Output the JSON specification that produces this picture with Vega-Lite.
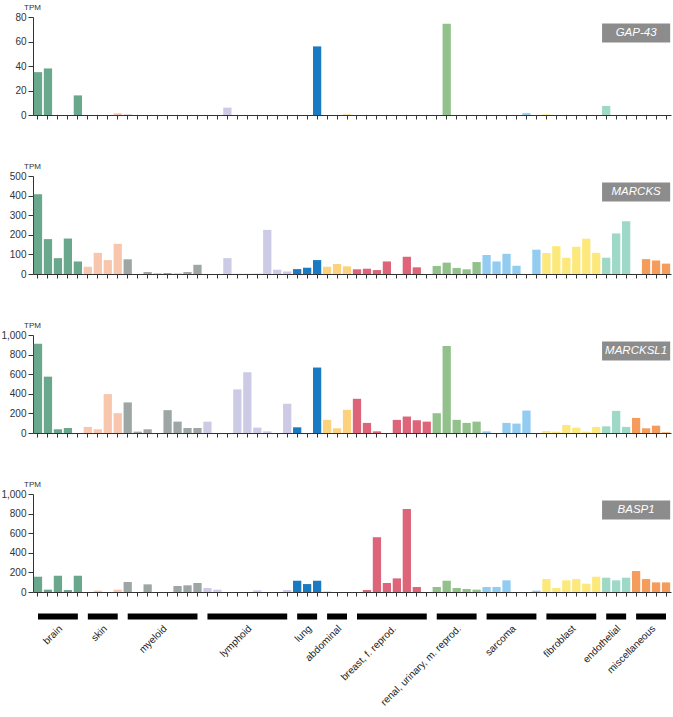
{
  "$schema": "https://vega.github.io/schema/vega-lite/v6.json",
  "padding": {"left": 0, "top": 3, "right": 3, "bottom": 0},
  "background": "white",
  "data": {"values": [
    {"line":"L01","group":"brain","GAP43":35,"MARCKS":407,"MARCKSL1":911,"BASP1":156},
    {"line":"L02","group":"brain","GAP43":38,"MARCKS":178,"MARCKSL1":575,"BASP1":24},
    {"line":"L03","group":"brain","GAP43":0,"MARCKS":81,"MARCKSL1":38,"BASP1":166},
    {"line":"L04","group":"brain","GAP43":0,"MARCKS":181,"MARCKSL1":51,"BASP1":20},
    {"line":"L05","group":"brain","GAP43":16,"MARCKS":64,"MARCKSL1":0,"BASP1":166},
    {"line":"L06","group":"skin","GAP43":0,"MARCKS":37,"MARCKSL1":62,"BASP1":0},
    {"line":"L07","group":"skin","GAP43":0,"MARCKS":108,"MARCKSL1":38,"BASP1":14},
    {"line":"L08","group":"skin","GAP43":0,"MARCKS":71,"MARCKSL1":397,"BASP1":0},
    {"line":"L09","group":"skin","GAP43":1.4,"MARCKS":154,"MARCKSL1":202,"BASP1":24},
    {"line":"L10","group":"myeloid","GAP43":0.3,"MARCKS":75,"MARCKSL1":312,"BASP1":102},
    {"line":"L11","group":"myeloid","GAP43":0,"MARCKS":0,"MARCKSL1":14,"BASP1":0},
    {"line":"L12","group":"myeloid","GAP43":0,"MARCKS":10,"MARCKSL1":38,"BASP1":78},
    {"line":"L13","group":"myeloid","GAP43":0,"MARCKS":2,"MARCKSL1":0,"BASP1":0},
    {"line":"L14","group":"myeloid","GAP43":0,"MARCKS":5,"MARCKSL1":233,"BASP1":0},
    {"line":"L15","group":"myeloid","GAP43":0,"MARCKS":2,"MARCKSL1":116,"BASP1":61},
    {"line":"L16","group":"myeloid","GAP43":0,"MARCKS":10,"MARCKSL1":51,"BASP1":68},
    {"line":"L17","group":"myeloid","GAP43":0,"MARCKS":47,"MARCKSL1":51,"BASP1":92},
    {"line":"L18","group":"lymphoid","GAP43":0,"MARCKS":0,"MARCKSL1":116,"BASP1":41},
    {"line":"L19","group":"lymphoid","GAP43":0,"MARCKS":0,"MARCKSL1":0,"BASP1":24},
    {"line":"L20","group":"lymphoid","GAP43":6,"MARCKS":81,"MARCKSL1":0,"BASP1":0},
    {"line":"L21","group":"lymphoid","GAP43":0,"MARCKS":1,"MARCKSL1":445,"BASP1":0},
    {"line":"L22","group":"lymphoid","GAP43":0,"MARCKS":1,"MARCKSL1":620,"BASP1":0},
    {"line":"L23","group":"lymphoid","GAP43":0,"MARCKS":2,"MARCKSL1":55,"BASP1":17},
    {"line":"L24","group":"lymphoid","GAP43":0,"MARCKS":225,"MARCKSL1":17,"BASP1":0},
    {"line":"L25","group":"lymphoid","GAP43":0,"MARCKS":22,"MARCKSL1":0,"BASP1":0},
    {"line":"L26","group":"lymphoid","GAP43":0,"MARCKS":13,"MARCKSL1":298,"BASP1":20},
    {"line":"L27","group":"lung","GAP43":0,"MARCKS":25,"MARCKSL1":58,"BASP1":115},
    {"line":"L28","group":"lung","GAP43":0,"MARCKS":32,"MARCKSL1":0,"BASP1":81},
    {"line":"L29","group":"lung","GAP43":56,"MARCKS":71,"MARCKSL1":668,"BASP1":115},
    {"line":"L30","group":"abdominal","GAP43":0,"MARCKS":37,"MARCKSL1":134,"BASP1":7},
    {"line":"L31","group":"abdominal","GAP43":0,"MARCKS":51,"MARCKSL1":48,"BASP1":0},
    {"line":"L32","group":"abdominal","GAP43":0.5,"MARCKS":39,"MARCKSL1":236,"BASP1":0},
    {"line":"L33","group":"breast, f. reprod.","GAP43":0,"MARCKS":24,"MARCKSL1":349,"BASP1":0},
    {"line":"L34","group":"breast, f. reprod.","GAP43":0,"MARCKS":27,"MARCKSL1":103,"BASP1":20},
    {"line":"L35","group":"breast, f. reprod.","GAP43":0,"MARCKS":20,"MARCKSL1":17,"BASP1":559},
    {"line":"L36","group":"breast, f. reprod.","GAP43":0,"MARCKS":64,"MARCKSL1":0,"BASP1":92},
    {"line":"L37","group":"breast, f. reprod.","GAP43":0,"MARCKS":0,"MARCKSL1":134,"BASP1":139},
    {"line":"L38","group":"breast, f. reprod.","GAP43":0,"MARCKS":88,"MARCKSL1":168,"BASP1":847},
    {"line":"L39","group":"breast, f. reprod.","GAP43":0,"MARCKS":34,"MARCKSL1":130,"BASP1":51},
    {"line":"L40","group":"breast, f. reprod.","GAP43":0,"MARCKS":0,"MARCKSL1":116,"BASP1":0},
    {"line":"L41","group":"renal, urinary, m. reprod.","GAP43":0,"MARCKS":41,"MARCKSL1":202,"BASP1":51},
    {"line":"L42","group":"renal, urinary, m. reprod.","GAP43":74.5,"MARCKS":58,"MARCKSL1":887,"BASP1":115},
    {"line":"L43","group":"renal, urinary, m. reprod.","GAP43":0,"MARCKS":31,"MARCKSL1":134,"BASP1":41},
    {"line":"L44","group":"renal, urinary, m. reprod.","GAP43":0,"MARCKS":24,"MARCKSL1":103,"BASP1":31},
    {"line":"L45","group":"renal, urinary, m. reprod.","GAP43":0,"MARCKS":61,"MARCKSL1":116,"BASP1":24},
    {"line":"L46","group":"sarcoma","GAP43":0,"MARCKS":97,"MARCKSL1":17,"BASP1":51},
    {"line":"L47","group":"sarcoma","GAP43":0,"MARCKS":64,"MARCKSL1":0,"BASP1":51},
    {"line":"L48","group":"sarcoma","GAP43":0,"MARCKS":103,"MARCKSL1":103,"BASP1":119},
    {"line":"L49","group":"sarcoma","GAP43":0,"MARCKS":42,"MARCKSL1":96,"BASP1":0},
    {"line":"L50","group":"sarcoma","GAP43":1.5,"MARCKS":0,"MARCKSL1":229,"BASP1":0},
    {"line":"L51","group":"sarcoma","GAP43":0,"MARCKS":124,"MARCKSL1":0,"BASP1":14},
    {"line":"L52","group":"fibroblast","GAP43":0.5,"MARCKS":107,"MARCKSL1":21,"BASP1":132},
    {"line":"L53","group":"fibroblast","GAP43":0,"MARCKS":142,"MARCKSL1":14,"BASP1":41},
    {"line":"L54","group":"fibroblast","GAP43":0,"MARCKS":83,"MARCKSL1":82,"BASP1":119},
    {"line":"L55","group":"fibroblast","GAP43":0,"MARCKS":139,"MARCKSL1":55,"BASP1":132},
    {"line":"L56","group":"fibroblast","GAP43":0,"MARCKS":180,"MARCKSL1":14,"BASP1":85},
    {"line":"L57","group":"fibroblast","GAP43":0,"MARCKS":108,"MARCKSL1":62,"BASP1":156},
    {"line":"L58","group":"endothelial","GAP43":7.4,"MARCKS":83,"MARCKSL1":68,"BASP1":146},
    {"line":"L59","group":"endothelial","GAP43":0,"MARCKS":207,"MARCKSL1":226,"BASP1":119},
    {"line":"L60","group":"endothelial","GAP43":0,"MARCKS":269,"MARCKSL1":62,"BASP1":146},
    {"line":"L61","group":"miscellaneous","GAP43":0,"MARCKS":0,"MARCKSL1":154,"BASP1":214},
    {"line":"L62","group":"miscellaneous","GAP43":0,"MARCKS":76,"MARCKSL1":48,"BASP1":132},
    {"line":"L63","group":"miscellaneous","GAP43":0,"MARCKS":69,"MARCKSL1":75,"BASP1":98},
    {"line":"L64","group":"miscellaneous","GAP43":0,"MARCKS":53,"MARCKSL1":7,"BASP1":98}
  ]},
  "bounds": "flush",
  "spacing": 61,
  "vconcat": [
    {
      "width": 638, "height": 98,
      "layer": [
        {"mark": {"type": "bar"},
         "encoding": {
           "x": {"field": "line", "type": "nominal", "title": null, "scale": {"paddingInner": 0.17, "paddingOuter": 0.085}, "axis": {"labels": false, "title": null, "tickSize": 4, "bandPosition": 0.5}},
           "y": {"field": "GAP43", "type": "quantitative", "scale": {"domain": [0, 80]}, "axis": {"title": "TPM", "tickCount": 5, "titleAngle": 0, "titleX": -1, "titleY": -8, "titleAlign": "center", "titleBaseline": "alphabetic"}},
           "color": {"field": "group", "type": "nominal", "legend": null, "scale": {"domain": ["brain","skin","myeloid","lymphoid","lung","abdominal","breast, f. reprod.","renal, urinary, m. reprod.","sarcoma","fibroblast","endothelial","miscellaneous"], "range": ["#6aa88e","#f8c6ad","#9ea5a5","#cdcae6","#1a7bc2","#fdd27e","#dd6479","#92c18b","#92ccf0","#fde87c","#9ed8c6","#f59c5c"]}}
         }},
        {"data": {"values": [{"gene": "GAP-43"}]},
         "mark": {"type": "rect", "color": "#8c8c8c"},
         "encoding": {
           "x": {"datum": "L58", "bandPosition": 0, "title": null},
           "x2": {"datum": "L64", "bandPosition": 1},
           "y": {"datum": 74.7, "title": "TPM"},
           "y2": {"datum": 59.2}
         }},
        {"data": {"values": [{"gene": "GAP-43"}]},
         "mark": {"type": "text", "color": "#ffffff", "fontStyle": "italic", "fontSize": 11.5, "align": "center", "baseline": "middle"},
         "encoding": {
           "x": {"datum": "L61", "bandPosition": 0.5, "title": null},
           "y": {"datum": 67, "title": "TPM"},
           "text": {"field": "gene"}
         }}
      ]
    },
    {
      "width": 638, "height": 98,
      "layer": [
        {"mark": {"type": "bar"},
         "encoding": {
           "x": {"field": "line", "type": "nominal", "title": null, "scale": {"paddingInner": 0.17, "paddingOuter": 0.085}, "axis": {"labels": false, "title": null, "tickSize": 4, "bandPosition": 0.5}},
           "y": {"field": "MARCKS", "type": "quantitative", "scale": {"domain": [0, 500]}, "axis": {"title": "TPM", "tickCount": 5, "titleAngle": 0, "titleX": -1, "titleY": -8, "titleAlign": "center", "titleBaseline": "alphabetic"}},
           "color": {"field": "group", "type": "nominal", "legend": null}
         }},
        {"data": {"values": [{"gene": "MARCKS"}]},
         "mark": {"type": "rect", "color": "#8c8c8c"},
         "encoding": {
           "x": {"datum": "L58", "bandPosition": 0, "title": null},
           "x2": {"datum": "L64", "bandPosition": 1},
           "y": {"datum": 467, "title": "TPM"},
           "y2": {"datum": 370}
         }},
        {"data": {"values": [{"gene": "MARCKS"}]},
         "mark": {"type": "text", "color": "#ffffff", "fontStyle": "italic", "fontSize": 11.5, "align": "center", "baseline": "middle"},
         "encoding": {
           "x": {"datum": "L61", "bandPosition": 0.5, "title": null},
           "y": {"datum": 418, "title": "TPM"},
           "text": {"field": "gene"}
         }}
      ]
    },
    {
      "width": 638, "height": 98,
      "layer": [
        {"mark": {"type": "bar"},
         "encoding": {
           "x": {"field": "line", "type": "nominal", "title": null, "scale": {"paddingInner": 0.17, "paddingOuter": 0.085}, "axis": {"labels": false, "title": null, "tickSize": 4, "bandPosition": 0.5}},
           "y": {"field": "MARCKSL1", "type": "quantitative", "scale": {"domain": [0, 1000]}, "axis": {"title": "TPM", "tickCount": 5, "titleAngle": 0, "titleX": -1, "titleY": -8, "titleAlign": "center", "titleBaseline": "alphabetic"}},
           "color": {"field": "group", "type": "nominal", "legend": null}
         }},
        {"data": {"values": [{"gene": "MARCKSL1"}]},
         "mark": {"type": "rect", "color": "#8c8c8c"},
         "encoding": {
           "x": {"datum": "L58", "bandPosition": 0, "title": null},
           "x2": {"datum": "L64", "bandPosition": 1},
           "y": {"datum": 934, "title": "TPM"},
           "y2": {"datum": 740}
         }},
        {"data": {"values": [{"gene": "MARCKSL1"}]},
         "mark": {"type": "text", "color": "#ffffff", "fontStyle": "italic", "fontSize": 11.5, "align": "center", "baseline": "middle"},
         "encoding": {
           "x": {"datum": "L61", "bandPosition": 0.5, "title": null},
           "y": {"datum": 837, "title": "TPM"},
           "text": {"field": "gene"}
         }}
      ]
    },
    {
      "width": 638, "height": 98,
      "resolve": {"scale": {"x": "independent"}, "axis": {"x": "independent"}},
      "layer": [
        {
          "layer": [
            {"mark": {"type": "bar"},
             "encoding": {
               "x": {"field": "line", "type": "nominal", "title": null, "scale": {"paddingInner": 0.17, "paddingOuter": 0.085}, "axis": {"labels": false, "title": null, "tickSize": 4, "bandPosition": 0.5}},
               "y": {"field": "BASP1", "type": "quantitative", "scale": {"domain": [0, 1000]}, "axis": {"title": "TPM", "tickCount": 5, "titleAngle": 0, "titleX": -1, "titleY": -8, "titleAlign": "center", "titleBaseline": "alphabetic"}},
               "color": {"field": "group", "type": "nominal", "legend": null}
             }},
            {"data": {"values": [{"gene": "BASP1"}]},
             "mark": {"type": "rect", "color": "#8c8c8c"},
             "encoding": {
               "x": {"datum": "L58", "bandPosition": 0, "title": null},
               "x2": {"datum": "L64", "bandPosition": 1},
               "y": {"datum": 934, "title": "TPM", "scale": {"domain": [0, 1000]}},
               "y2": {"datum": 740}
             }},
            {"data": {"values": [{"gene": "BASP1"}]},
             "mark": {"type": "text", "color": "#ffffff", "fontStyle": "italic", "fontSize": 11.5, "align": "center", "baseline": "middle"},
             "encoding": {
               "x": {"datum": "L61", "bandPosition": 0.5, "title": null},
               "y": {"datum": 837, "title": "TPM", "scale": {"domain": [0, 1000]}},
               "text": {"field": "gene"}
             }}
          ]
        },
        {
          "transform": [
            {"window": [{"op": "row_number", "as": "r"}]},
            {"aggregate": [{"op": "min", "field": "r", "as": "r0"}, {"op": "max", "field": "r", "as": "r1"}, {"op": "mean", "field": "r", "as": "rm"}], "groupby": ["group"]}
          ],
          "layer": [
            {"mark": {"type": "rule", "color": "#000000", "strokeWidth": 6, "strokeCap": "butt"},
             "encoding": {
               "x": {"field": "r0", "type": "quantitative", "scale": {"domain": [0.5, 64.5], "nice": false, "zero": false}, "axis": null},
               "x2": {"field": "r1"},
               "y": {"datum": -250, "title": "TPM", "scale": {"domain": [0, 1000]}}
             }},
            {"mark": {"type": "text", "angle": 315, "align": "right", "baseline": "top", "dx": -5.5, "dy": 4.5, "fontSize": 10, "color": "#222222"},
             "encoding": {
               "x": {"field": "rm", "type": "quantitative", "scale": {"domain": [0.5, 64.5], "nice": false, "zero": false}, "axis": null},
               "y": {"datum": -250, "title": "TPM", "scale": {"domain": [0, 1000]}},
               "text": {"field": "group"}
             }}
          ]
        }
      ]
    }
  ],
  "config": {
    "font": "Liberation Sans",
    "view": {"stroke": null},
    "axis": {"grid": false, "domainColor": "#333333", "tickColor": "#333333", "labelColor": "#333333", "titleColor": "#333333", "labelFontSize": 10},
    "axisY": {"titleFontSize": 8, "titleFontWeight": "normal", "tickSize": 5, "labelPadding": 2}
  }
}
